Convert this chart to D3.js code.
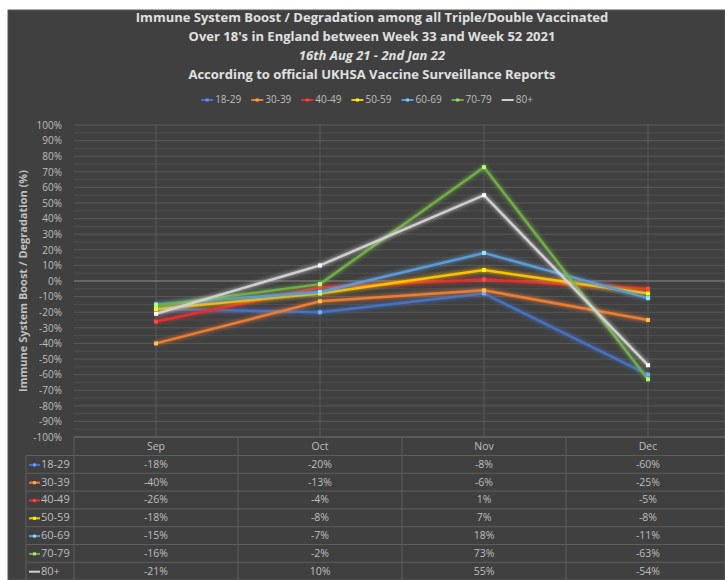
<!DOCTYPE html>
<html><head><meta charset="utf-8">
<script src="https://cdn.jsdelivr.net/npm/d3@7"></script>
<style>
html,body{margin:0;padding:0;background:#fff;}
svg{display:block;}
text{font-family:"Open Sans","Liberation Sans",sans-serif;}
</style></head>
<body>
<svg id="chart" width="725" height="580"></svg>
<script>
const months = ["Sep","Oct","Nov","Dec"];
const seriesNames = ["18-29","30-39","40-49","50-59","60-69","70-79","80+"];
const v1829 = [-18,-20,-8,-60];
const v3039 = [-40,-13,-6,-25];
const v4049 = [-26,-4,1,-5];
const v5059 = [-18,-8,7,-8];
const v6069 = [-15,-7,18,-11];
const v7079 = [-16,-2,73,-63];
const v80 = [-21,10,55,-54];
const seriesValues = [v1829,v3039,v4049,v5059,v6069,v7079,v80];
const seriesColors = ["#4472c4","#ed7d31","#e0302a","#ffc000","#5b9bd5","#70ad47","#d0d0d0"];
const yTicks = d3.range(-100,101,10);
const titleLines = [
  {t:"Immune System Boost / Degradation among all Triple/Double Vaccinated", i:false},
  {t:"Over 18's in England between Week 33 and Week 52 2021", i:false},
  {t:"16th Aug 21 - 2nd Jan 22", i:true},
  {t:"According to official UKHSA Vaccine Surveillance Reports", i:false}
];
const yTitle = "Immune System Boost / Degradation (%)";

const svg = d3.select("#chart");
const W=725,H=580;
svg.append("rect").attr("x",0).attr("y",0).attr("width",W).attr("height",H).attr("fill","#ffffff");
svg.append("rect").attr("x",8).attr("y",10).attr("width",W-8).attr("height",H-10).attr("fill","#404040").attr("stroke","#5a5a5a").attr("stroke-width",1);

const defs = svg.append("defs");
const f = defs.append("filter").attr("id","glow").attr("x","-20%").attr("y","-20%").attr("width","140%").attr("height","140%");
f.append("feGaussianBlur").attr("in","SourceGraphic").attr("stdDeviation",2).attr("result","b");
const m = f.append("feMerge");
m.append("feMergeNode").attr("in","b");
m.append("feMergeNode").attr("in","SourceGraphic");

const x = d3.scaleBand().domain(months).range([74,730]).padding(0);
const y = d3.scaleLinear().domain([-100,100]).range([437,125]);

const g = svg.append("g");
g.selectAll("line.minor").data(d3.range(-95,100,10)).join("line")
  .attr("x1",74).attr("x2",W).attr("y1",d=>y(d)).attr("y2",d=>y(d))
  .attr("stroke","#4f4f4f").attr("stroke-width",1);
g.selectAll("line.major").data(yTicks.filter(d=>d!==0)).join("line")
  .attr("x1",74).attr("x2",W).attr("y1",d=>y(d)).attr("y2",d=>y(d))
  .attr("stroke","#595959").attr("stroke-width",1);
g.selectAll("line.vg").data(months).join("line")
  .attr("x1",d=>x(d)+x.bandwidth()/2).attr("x2",d=>x(d)+x.bandwidth()/2)
  .attr("y1",y(100)).attr("y2",y(-100))
  .attr("stroke","#595959").attr("stroke-width",1);
g.append("line").attr("x1",74).attr("x2",W).attr("y1",y(0)).attr("y2",y(0))
  .attr("stroke","#8c8c8c").attr("stroke-width",1.2);

const yAxis = d3.axisLeft(y).tickValues(yTicks).tickFormat(d=>d+"%").tickSize(0).tickPadding(0);
const ya = svg.append("g").attr("transform","translate(62,0)").call(yAxis);
ya.select(".domain").remove();
ya.selectAll("text").attr("fill","#bfbfbf").style("font-size","10px");

svg.append("text").attr("transform",`translate(24,${y(0)}) rotate(-90)`)
  .attr("text-anchor","middle").attr("dominant-baseline","middle")
  .attr("fill","#bfbfbf").style("font-size","11px").style("font-weight","bold").text(yTitle);

const tY=[19,38,57,76];
titleLines.forEach((l,i)=>{
  svg.append("text").attr("x",372).attr("y",tY[i]).attr("text-anchor","middle")
    .attr("dominant-baseline","middle").attr("fill","#e0e0e0")
    .style("font-size","13px").style("font-weight","bold").style("font-style",l.i?"italic":"normal").text(l.t);
});

const legend = svg.append("g");
let lx=0;
seriesNames.forEach((n,i)=>{
  const gi = legend.append("g");
  gi.append("line").attr("x1",0).attr("x2",12).attr("y1",0).attr("y2",0).attr("stroke",seriesColors[i]).attr("stroke-width",2);
  if(i<6) gi.append("rect").attr("x",4.5).attr("y",-1.5).attr("width",3).attr("height",3).attr("fill",d3.color(seriesColors[i]).brighter(0.8));
  const t = gi.append("text").attr("x",14).attr("y",0).attr("dominant-baseline","middle").attr("fill","#bfbfbf").style("font-size","10px").text(n);
  const w = 14 + t.node().getComputedTextLength();
  gi.attr("transform",`translate(${lx},0)`);
  lx += w + 10;
});
legend.attr("transform",`translate(${367-(lx-10)/2},100)`);

const line = d3.line().x((d,i)=>x(months[i])+x.bandwidth()/2).y(d=>y(d));
const plot = svg.append("g");
seriesValues.forEach((vals,si)=>{
  plot.append("path").datum(vals).attr("d",line).attr("fill","none")
    .attr("stroke",seriesColors[si]).attr("stroke-width",2.5).attr("filter","url(#glow)");
});
seriesValues.forEach((vals,si)=>{
  plot.selectAll(null).data(vals).join("rect")
    .attr("x",(d,i)=>x(months[i])+x.bandwidth()/2-2).attr("y",d=>y(d)-2)
    .attr("width",4).attr("height",4)
    .attr("fill",d3.color(seriesColors[si]).brighter(1.2));
});

const tTop = 437, hdrH = 18.5, rowH = 17.8;
const tab = svg.append("g");
tab.append("line").attr("x1",74).attr("x2",W).attr("y1",tTop).attr("y2",tTop).attr("stroke","#6a6a6a");
seriesNames.forEach((n,i)=>{
  const yy = tTop+hdrH+rowH*i;
  tab.append("line").attr("x1",26).attr("x2",W).attr("y1",yy).attr("y2",yy).attr("stroke","#5e5e5e");
});
[74, ...months.slice(1).map(mm=>x(mm))].forEach(xx=>{
  tab.append("line").attr("x1",xx).attr("x2",xx).attr("y1",tTop).attr("y2",H).attr("stroke","#5e5e5e");
});
tab.append("line").attr("x1",26).attr("x2",26).attr("y1",tTop+hdrH).attr("y2",H).attr("stroke","#5e5e5e");
months.forEach(mm=>{
  tab.append("text").attr("x",x(mm)+x.bandwidth()/2).attr("y",tTop+hdrH/2+1).attr("text-anchor","middle")
    .attr("dominant-baseline","middle").attr("fill","#bfbfbf").style("font-size","10.5px").text(mm);
});
seriesNames.forEach((n,si)=>{
  const cy = tTop+hdrH+rowH*si+rowH/2+0.5;
  tab.append("line").attr("x1",29).attr("x2",40).attr("y1",cy).attr("y2",cy).attr("stroke",seriesColors[si]).attr("stroke-width",2);
  if(si<6) tab.append("rect").attr("x",33).attr("y",cy-1.5).attr("width",3).attr("height",3).attr("fill",d3.color(seriesColors[si]).brighter(1));
  tab.append("text").attr("x",41).attr("y",cy).attr("dominant-baseline","middle").attr("fill","#bfbfbf").style("font-size","11px").text(n);
  seriesValues[si].forEach((v,i)=>{
    tab.append("text").attr("x",x(months[i])+x.bandwidth()/2).attr("y",cy).attr("text-anchor","middle")
      .attr("dominant-baseline","middle").attr("fill","#bfbfbf").style("font-size","10.5px").text(v+"%");
  });
});
</script>
</body></html>
